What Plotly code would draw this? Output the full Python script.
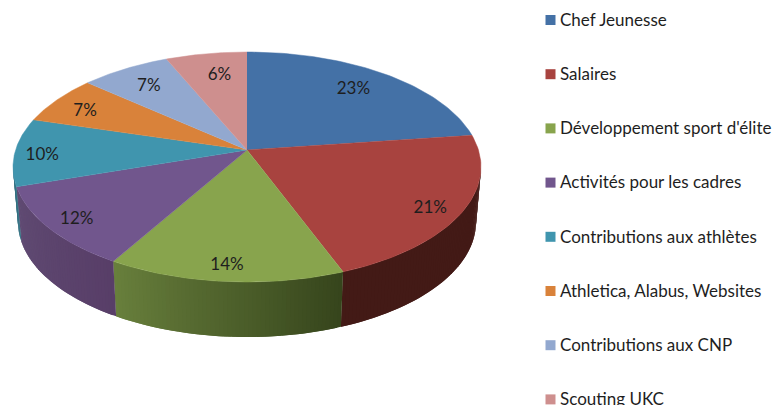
import math
import plotly.graph_objects as go

categories = ["Chef Jeunesse", "Salaires", "Développement sport d'élite",
              "Activités pour les cadres", "Contributions aux athlètes",
              "Athletica, Alabus, Websites", "Contributions aux CNP", "Scouting UKC"]
values = [23, 21.4, 14.3, 11.6, 9.6, 6.9, 7.2, 6.5]

top_colors = ["#4471A6", "#A8433F", "#88A44D", "#71568D", "#4095AE", "#D9823A", "#92A8CF", "#CE8F8E"]
wall_left = ["#2B4A70", "#431A16", "#687F3C", "#604B73", "#2F6E80", "#9A5C28", "#6A7A96", "#94686A"]
wall_right = ["#2B4A70", "#431A16", "#36451C", "#583E68", "#2F6E80", "#9A5C28", "#6A7A96", "#94686A"]
label_radius = [0.78, 0.87, 0.88, 0.86, 0.87, 0.80, 0.76, 0.75]
label_dx = [-3, -2, -1, -2, -3, -8, -3, 4]
label_dy = [0, 4, 1, 3, 3, 1, -1, -1]

CX, CY, RX, RY = 247, 167, 234, 115
BX, BY, BRX, BRY = 247, 222, 229, 115
APEX_SHIFT = -0.148


def project(theta, r=1.0):
    """Clockwise angle from 12 o'clock on a tilted disc -> unit ellipse coordinates."""
    u, v = r * math.sin(theta), -r * math.cos(theta)
    a = APEX_SHIFT
    d = 1 + a * v
    return u * math.sqrt(1 - a * a) / d, (v + a) / d


def hex_mix(c1, c2, t):
    p = [int(c1[i:i + 2], 16) for i in (1, 3, 5)]
    q = [int(c2[i:i + 2], 16) for i in (1, 3, 5)]
    return "rgb(%d,%d,%d)" % tuple(round(a + (b - a) * t) for a, b in zip(p, q))


total = sum(values)
edges = [0.0]
for val in values:
    edges.append(edges[-1] + val / total * 2 * math.pi)

fig = go.Figure()

# side walls, drawn as overlapping quads so that each slice gets its shading without seams
for i in range(len(values)):
    steps = max(8, int(values[i] * 4))
    pts = [edges[i] + (edges[i + 1] - edges[i]) * k / steps for k in range(steps + 1)]
    vis = [k for k in range(steps) if project(pts[k])[1] >= -0.01 or project(pts[k + 1])[1] >= -0.01]
    for n, k in enumerate(vis):
        e1, e2 = project(pts[k]), project(pts[min(k + 2, steps)])
        t = n / max(1, len(vis) - 1)
        col = hex_mix(wall_right[i], wall_left[i], t)
        xs = [CX + RX * e1[0], CX + RX * e2[0], BX + BRX * e2[0], BX + BRX * e1[0]]
        ys = [CY + RY * e1[1], CY + RY * e2[1], BY + BRY * e2[1], BY + BRY * e1[1]]
        fig.add_trace(go.Scatter(x=xs, y=ys, mode="lines", fill="toself", fillcolor=col,
                                 line=dict(width=0), hoverinfo="skip", showlegend=False))

# top faces
for i in range(len(values)):
    n = 60
    ths = [edges[i] + (edges[i + 1] - edges[i]) * k / n for k in range(n + 1)]
    ell = [project(t) for t in ths]
    xs = [CX + RX * project(0, 0)[0]] + [CX + RX * e[0] for e in ell]
    ys = [CY + RY * project(0, 0)[1]] + [CY + RY * e[1] for e in ell]
    fig.add_trace(go.Scatter(x=xs, y=ys, mode="lines", fill="toself", fillcolor=top_colors[i],
                             line=dict(color=top_colors[i], width=0.5), name=categories[i],
                             hoverinfo="skip", showlegend=False))

# percentage labels
lx, ly = [], []
for i in range(len(values)):
    e = project((edges[i] + edges[i + 1]) / 2, label_radius[i])
    lx.append(CX + RX * e[0] + label_dx[i])
    ly.append(CY + RY * e[1] + 1 + label_dy[i])
fig.add_trace(go.Scatter(x=lx, y=ly, mode="text", text=["%d%%" % round(v / total * 100) for v in values],
                         textposition="middle center",
                         textfont=dict(family="Lato", size=17, color="#1E1E1E"),
                         hoverinfo="skip", showlegend=False))

# legend
LEG_X, LEG_TX, LEG_Y0, LEG_STEP = 550.5, 560, 20, 54.2
for i, c in enumerate(categories):
    y = LEG_Y0 + LEG_STEP * i
    fig.add_trace(go.Scatter(x=[LEG_X], y=[y], mode="markers",
                             marker=dict(symbol="square", size=10, color=top_colors[i]),
                             hoverinfo="skip", showlegend=False))
    fig.add_trace(go.Scatter(x=[LEG_TX], y=[y + 1.5], mode="text",
                             text=[c], textposition="middle right",
                             textfont=dict(family="Lato", size=17, color="#1E1E1E"),
                             hoverinfo="skip", showlegend=False))

fig.update_layout(width=775, height=405, margin=dict(l=0, r=0, t=0, b=0),
                  paper_bgcolor="white", plot_bgcolor="white", showlegend=False,
                  xaxis=dict(range=[0, 775], visible=False, fixedrange=True),
                  yaxis=dict(range=[405, 0], visible=False, fixedrange=True))
fig.write_html("out.html", config=dict(displayModeBar=False),
               post_script="document.body.style.margin='0';document.body.style.overflow='hidden';")
